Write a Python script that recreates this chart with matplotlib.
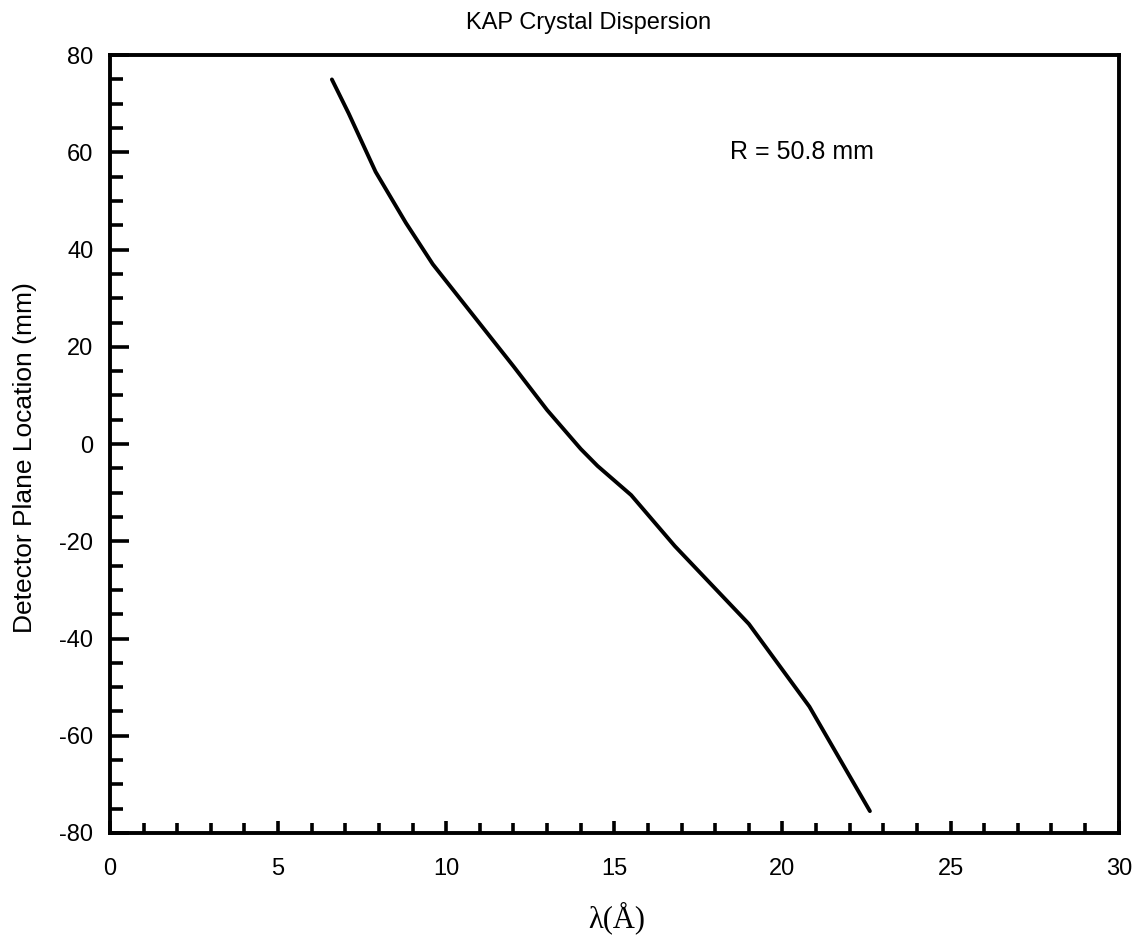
import numpy as np
import matplotlib
matplotlib.use("Agg")
import matplotlib.pyplot as plt
from matplotlib.ticker import MultipleLocator

# values
wavelength = [6.6, 7.1, 7.9, 8.8, 9.6, 10.4, 11.2, 12.0, 13.0, 14.0, 14.5,
              15.5, 16.8, 17.9, 19.0, 20.8, 22.6]
position = [75.0, 68.0, 56.0, 45.5, 37.0, 30.0, 23.0, 16.0, 7.0, -1.0, -4.5,
            -10.5, -21.0, -29.0, -37.0, -54.0, -75.5]

xticks = [0, 5, 10, 15, 20, 25, 30]
yticks = [-80, -60, -40, -20, 0, 20, 40, 60, 80]

plt.rcParams["font.family"] = ["Liberation Sans", "DejaVu Sans"]
plt.rcParams["axes.unicode_minus"] = False

fig = plt.figure(figsize=(11.36, 9.44), dpi=100)
ax = fig.add_axes([0.0968, 0.1176, 0.888, 0.824])

ax.plot(wavelength, position, color="black", lw=2.8, solid_capstyle="round")

ax.set_xlim(0, 30)
ax.set_ylim(-80, 80)
ax.set_xticks(xticks)
ax.set_yticks(yticks)
ax.xaxis.set_minor_locator(MultipleLocator(1))
ax.yaxis.set_minor_locator(MultipleLocator(5))

ax.tick_params(axis="both", which="both", direction="in", width=2.6,
               top=False, right=False, labelsize=17)
ax.tick_params(axis="y", which="major", length=14, pad=12)
ax.tick_params(axis="y", which="minor", length=9)
ax.tick_params(axis="x", which="major", length=9, pad=18)
ax.tick_params(axis="x", which="minor", length=7)

for s in ax.spines.values():
    s.set_linewidth(2.8)

fig.text(0.518, 0.976, "KAP Crystal Dispersion", fontsize=17,
         ha="center", va="center")

ax.set_ylabel("Detector Plane Location (mm)", fontsize=19)
ax.yaxis.label.set_va("center")
ax.yaxis.set_label_coords(-0.084, 0.482)

ax.set_xlabel("λ(Å)", fontsize=22, family=["Liberation Serif", "DejaVu Serif"])
ax.xaxis.label.set_va("center")
ax.xaxis.set_label_coords(0.502, -0.109)

ax.text(18.45, 60, "R = 50.8 mm", fontsize=18, ha="left", va="center")

fig.savefig("out.png", dpi=100)
